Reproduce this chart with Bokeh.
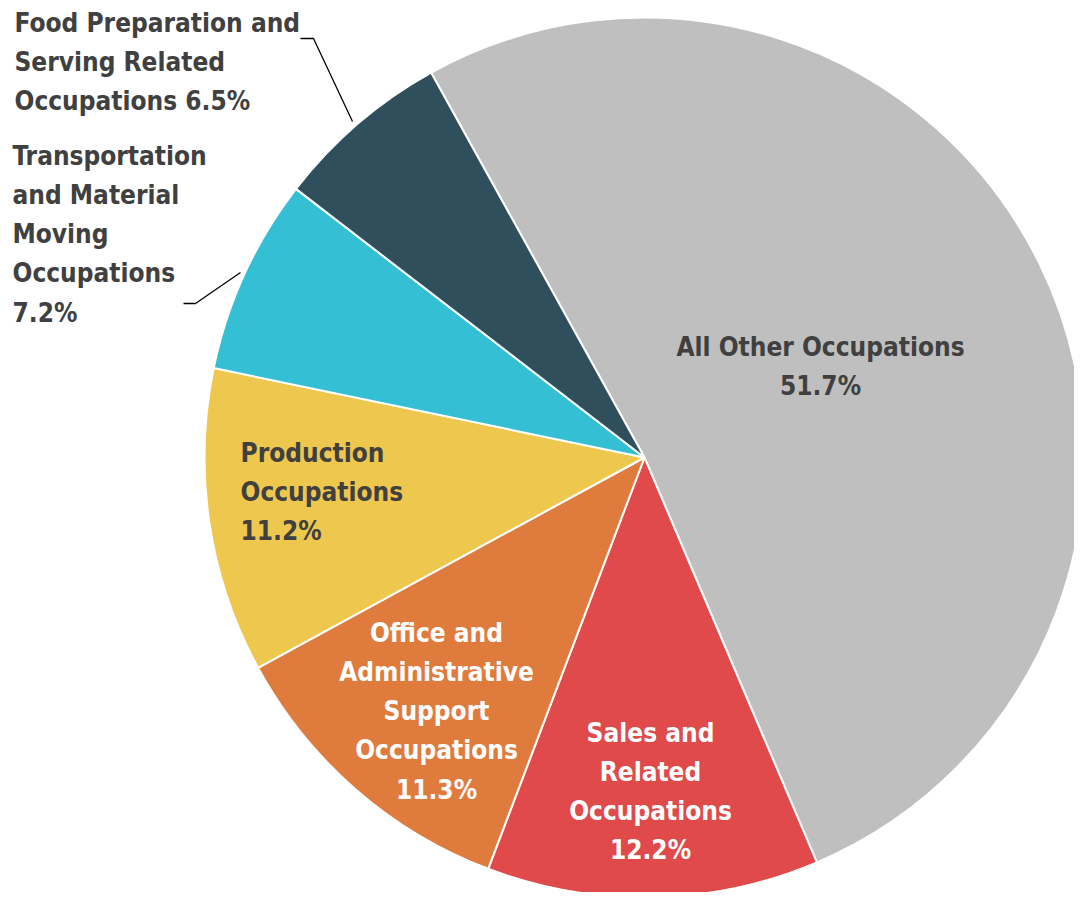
import math
from bokeh.plotting import figure
from bokeh.models import Range1d, ColumnDataSource
from bokeh.core.properties import value
from bokeh.embed import file_html
from bokeh.resources import INLINE

# ---- data ----
categories = ["All Other Occupations", "Sales and Related Occupations",
              "Office and Administrative Support Occupations", "Production Occupations",
              "Transportation and Material Moving Occupations",
              "Food Preparation and Serving Related Occupations"]
shares = [51.7, 12.2, 11.3, 11.2, 7.2, 6.5]
colors = ["#BFBFBF", "#E04A4A", "#E07B3E", "#EEC84E", "#35BFD4", "#2F4F5C"]
label_lines = [
    ["All Other Occupations", "51.7%"],
    ["Sales and", "Related", "Occupations", "12.2%"],
    ["Office and", "Administrative", "Support", "Occupations", "11.3%"],
    ["Production", "Occupations", "11.2%"],
    ["Transportation", "and Material", "Moving", "Occupations", "7.2%"],
    ["Food Preparation and", "Serving Related", "Occupations 6.5%"],
]

# ---- layout (screen-like coords: x right, y measured from top) ----
W, H = 1074, 892
CX, CY, R = 644, 457, 440
START_DEG = 119.0  # first slice starts here (math angle), goes clockwise
FONT = value("'Liberation Sans Narrow', 'DejaVu Sans Condensed', sans-serif")
FS = "26px"
DARK = "#404040"
LINE_H = 39.3
# per-label: (x, y of first line, align, color)
label_pos = [
    (820, 346, "center", DARK),
    (650, 732, "center", "white"),
    (436, 632, "center", "white"),
    (240, 452, "left", DARK),
    (12, 155, "left", DARK),
    (14, 22, "left", DARK),
]
leaders = {
    4: ([183, 195, 240], [303, 303, 272]),
    5: ([300, 313, 352], [38, 38, 121]),
}

def Y(ys):
    return 900 - ys

p = figure(width=W, height=H, output_backend="svg", toolbar_location=None,
           x_range=Range1d(0, W), y_range=Range1d(900 - H, 900),
           min_border=0, outline_line_color=None)
p.axis.visible = False
p.grid.visible = False
p.background_fill_color = "white"

starts, ends = [], []
a = START_DEG
for s in shares:
    span = s / sum(shares) * 360.0
    ends.append(math.radians(a))
    starts.append(math.radians(a - span))
    a -= span

src = ColumnDataSource(dict(start=starts, end=ends, color=colors, cat=categories))
p.wedge(x=CX, y=Y(CY), radius=R, start_angle="start", end_angle="end",
        direction="anticlock", fill_color="color", line_color="white",
        line_width=2, source=src)

for i, (xs, ys) in leaders.items():
    p.line(xs, [Y(v) for v in ys], line_color="black", line_width=1.3)

for i, lines in enumerate(label_lines):
    x0, y0, align, col = label_pos[i]
    xs = [x0] * len(lines)
    ys = [Y(y0 + k * LINE_H) for k in range(len(lines))]
    p.text(x=xs, y=ys, text=lines, text_font=FONT, text_font_size=FS,
           text_font_style="bold", text_color=col, text_align=align,
           text_baseline="middle")

open("out.html", "w").write(file_html(p, INLINE))
